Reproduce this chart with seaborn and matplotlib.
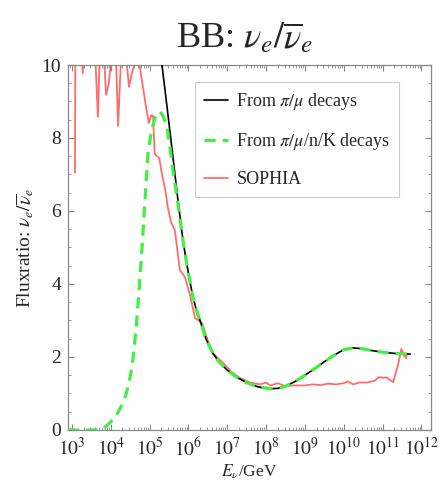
import numpy as np
import pandas as pd
import matplotlib
matplotlib.use("Agg")
import matplotlib.pyplot as plt
import seaborn as sns
from matplotlib.ticker import FixedLocator, LogLocator, NullFormatter, MultipleLocator

# ---- data (log10 E / GeV, flux ratio) ----
# shared tail of both analytic curves (they coincide above ~10^6 GeV)
tail_logE = [6.00, 6.06, 6.12, 6.20, 6.30, 6.45, 6.63, 6.80, 7.00, 7.25, 7.51, 7.80,
             8.10, 8.30, 8.50, 8.75, 9.00, 9.25, 9.50, 9.75, 10.00, 10.24, 10.45, 10.70,
             11.00, 11.40, 11.71]
tail_ratio = [4.3, 3.95, 3.64, 3.3, 3.0, 2.5, 2.1, 1.85, 1.64, 1.44, 1.29, 1.18,
              1.13, 1.14, 1.2, 1.33, 1.5, 1.68, 1.87, 2.05, 2.2, 2.25, 2.23, 2.18,
              2.13, 2.09, 2.08]

black_head_logE = [5.25, 5.32, 5.45, 5.60, 5.73, 5.86, 5.93]
black_head_ratio = [10.6, 10.0, 8.85, 7.5, 6.3, 5.2, 4.72]

green_head_logE = [2.90, 3.50, 3.72, 3.80, 3.90, 4.00, 4.10, 4.18, 4.25, 4.31, 4.37, 4.43,
                   4.49, 4.55, 4.60, 4.65, 4.70, 4.80, 4.90, 4.96, 5.05, 5.14, 5.22, 5.27,
                   5.35, 5.45, 5.53, 5.60, 5.73, 5.86, 5.93]
green_head_ratio = [0.0, 0.0, 0.02, 0.05, 0.12, 0.22, 0.35, 0.47, 0.6, 0.74, 0.9, 1.12,
                    1.4, 1.75, 2.2, 2.75, 3.4, 4.9, 6.6, 7.6, 8.2, 8.55, 8.7, 8.72,
                    8.6, 8.3, 7.7, 7.12, 6.2, 5.2, 4.72]

red_logE = [3.08, 3.09, 3.25, 3.28, 3.31, 3.60, 3.67, 3.72, 3.83, 3.88, 3.95, 4.03, 4.13,
            4.19, 4.27, 4.40, 4.47, 4.55, 4.70, 4.80, 4.91, 4.98, 5.05, 5.09, 5.13, 5.16,
            5.25, 5.32, 5.40, 5.47, 5.55, 5.65, 5.78, 5.91, 6.04, 6.17, 6.35, 6.50, 6.63,
            6.89, 7.10, 7.33, 7.59, 7.85, 8.00, 8.10, 8.30, 8.50, 8.70, 9.00, 9.20, 9.40,
            9.60, 9.80, 10.00, 10.10, 10.24, 10.40, 10.60, 10.80, 10.90, 11.00, 11.10,
            11.27, 11.40, 11.48, 11.55, 11.60, 11.63]
red_ratio = [7.05, 10.4, 10.3, 9.78, 10.4, 10.3, 8.58, 10.4, 10.2, 9.18, 9.5, 10.3, 10.4,
             8.33, 10.3, 10.2, 9.4, 9.8, 10.3, 9.6, 8.85, 8.41, 8.63, 8.6, 7.6, 7.53,
             7.45, 7.0, 6.6, 6.1, 5.7, 5.48, 4.38, 4.19, 3.7, 3.07, 2.93, 2.45, 2.1,
             1.84, 1.6, 1.42, 1.3, 1.25, 1.3, 1.22, 1.28, 1.2, 1.22, 1.22, 1.25, 1.23,
             1.27, 1.25, 1.28, 1.33, 1.25, 1.3, 1.3, 1.35, 1.45, 1.43, 1.44,
             1.31, 1.8, 2.22, 2.05, 1.97, 2.1]

labels = ["From $\\pi/\\mu$ decays", "From $\\pi/\\mu$/n/K decays", "SOPHIA"]
xticks_exp = list(range(3, 13))
yticks = [0, 2, 4, 6, 8, 10]

# ---- style ----
sns.set_theme(style="ticks")
plt.rcParams["font.family"] = ["Liberation Serif", "DejaVu Serif"]
plt.rcParams["mathtext.fontset"] = "stix"

fig = plt.figure(figsize=(4.4, 4.84), dpi=100)
ax = fig.add_axes([0.1545, 0.1116, 0.8255, 0.7541])

dfb = pd.DataFrame({"E": 10 ** np.array(black_head_logE + tail_logE),
                    "r": black_head_ratio + tail_ratio})
dfg = pd.DataFrame({"E": 10 ** np.array(green_head_logE + tail_logE),
                    "r": green_head_ratio + tail_ratio})
dfr = pd.DataFrame({"E": 10 ** np.array(red_logE), "r": red_ratio})

sns.lineplot(data=dfr, x="E", y="r", ax=ax, color="#ff5c5c", lw=1.3, alpha=0.9,
             label=labels[2], sort=False, zorder=2)
sns.lineplot(data=dfb, x="E", y="r", ax=ax, color="black", lw=1.2,
             label=labels[0], sort=False, zorder=3)
sns.lineplot(data=dfg, x="E", y="r", ax=ax, color="#44ee44", lw=2.3,
             label=labels[1], sort=False, zorder=4)
ax.lines[2].set_dashes([3.5, 2.2])

ax.set_xscale("log")
ax.set_xlim(10 ** 2.9, 10 ** 12.25)
ax.set_ylim(0, 10)

ax.xaxis.set_major_locator(FixedLocator([10.0 ** e for e in xticks_exp]))
ax.set_xticklabels(["$10^{%d}$" % e for e in xticks_exp])
ax.xaxis.set_minor_locator(LogLocator(base=10, subs=np.arange(2, 10), numticks=100))
ax.xaxis.set_minor_formatter(NullFormatter())
ax.set_yticks(yticks)
ax.set_yticklabels([str(v) for v in yticks])
ax.yaxis.set_minor_locator(MultipleLocator(0.5))

for s in ax.spines.values():
    s.set_color("#888888")
    s.set_linewidth(0.9)
ax.tick_params(which="both", direction="in", top=True, right=True, color="#888888")
ax.tick_params(which="major", length=4, width=0.8, labelsize=14)
ax.tick_params(axis="x", which="major", pad=5)
ax.tick_params(axis="y", which="major", pad=5)
ax.tick_params(which="minor", length=2, width=0.6)

ax.set_xlabel("$E_\\nu$/GeV", fontsize=12.5, labelpad=2)
ax.set_ylabel("Fluxratio: $\\nu_e/\\overline{\\nu}_e$", fontsize=14, labelpad=4)
ax.set_title("BB: $\\nu_e/\\overline{\\nu}_e$", fontsize=26, pad=12, x=0.485)

handles, labs = ax.get_legend_handles_labels()
order = [labs.index(l) for l in labels]
leg = ax.legend([handles[i] for i in order], [labs[i] for i in order],
                loc="upper left", bbox_to_anchor=(0.349, 0.953), borderaxespad=0,
                fontsize=13, frameon=True, fancybox=False, edgecolor="#cccccc",
                framealpha=1, handlelength=1.35, handletextpad=0.45,
                labelspacing=1.05, borderpad=0.5)
leg.get_frame().set_linewidth(0.8)

fig.savefig("out.png", dpi=100)
